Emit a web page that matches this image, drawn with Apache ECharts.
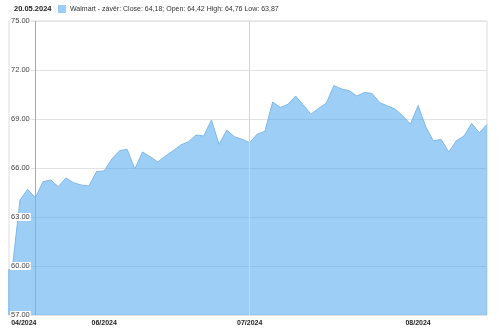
<!DOCTYPE html>
<html><head><meta charset="utf-8">
<script src="https://cdn.jsdelivr.net/npm/echarts@6/dist/echarts.min.js"></script>
<style>html,body{margin:0;padding:0;background:#fff}#c{width:500px;height:330px}</style>
</head><body><div id="c"></div>
<script>
const dates = ['14.05.2024','15.05.2024','16.05.2024','17.05.2024','20.05.2024','21.05.2024','22.05.2024','23.05.2024','24.05.2024','28.05.2024','29.05.2024','30.05.2024','31.05.2024',
'03.06.2024','04.06.2024','05.06.2024','06.06.2024','07.06.2024','10.06.2024','11.06.2024','12.06.2024','13.06.2024','14.06.2024','17.06.2024','18.06.2024','20.06.2024','21.06.2024','24.06.2024','25.06.2024','26.06.2024','27.06.2024','28.06.2024',
'01.07.2024','02.07.2024','03.07.2024','05.07.2024','08.07.2024','09.07.2024','10.07.2024','11.07.2024','12.07.2024','15.07.2024','16.07.2024','17.07.2024','18.07.2024','19.07.2024','22.07.2024','23.07.2024','24.07.2024','25.07.2024','26.07.2024','29.07.2024','30.07.2024','31.07.2024',
'01.08.2024','02.08.2024','05.08.2024','06.08.2024','07.08.2024','08.08.2024','09.08.2024','12.08.2024','13.08.2024','14.08.2024'];
const closes = [59.6,59.9,64.04,64.70,64.18,65.16,65.27,64.86,65.39,65.10,64.96,64.90,65.78,
65.82,66.55,67.06,67.14,65.94,66.98,66.69,66.37,66.73,67.06,67.41,67.61,68.02,67.96,68.94,67.45,68.31,67.92,67.76,
67.55,68.08,68.25,70.04,69.71,69.90,70.41,69.86,69.29,69.65,69.96,71.04,70.84,70.73,70.41,70.63,70.56,70.00,69.80,69.61,69.18,68.69,
69.82,68.53,67.65,67.76,66.98,67.67,67.96,68.73,68.16,68.67];
const seriesName = 'Walmart - závěr';
const selectedIndex = 4;
const selOpen = '64,42', selHigh = '64,76', selLow = '63,87';
const monthLabels = ['04/2024','06/2024','07/2024','08/2024'];
const monthIndex = [2.5, 13, 32, 54];
const yTicks = [57,60,63,66,69,72,75];

const chart = echarts.init(document.getElementById('c'), null, {renderer:'canvas'});
const fmt = v => v.toFixed(2).replace('.', ',');
const yMin = yTicks[0], yMax = yTicks[yTicks.length-1];
chart.setOption({
  animation:false,
  title:{text:dates[selectedIndex], left:14, top:5, padding:0, textStyle:{fontFamily:'Liberation Sans',fontSize:7.5,fontWeight:'bold',color:'#222'}},
  legend:{data:[seriesName], left:58, top:5, padding:0, icon:'rect', itemWidth:8, itemHeight:8, itemGap:4,
    textStyle:{fontFamily:'Liberation Sans',fontSize:7,color:'#333',padding:[0,0,0,-1]},
    formatter: n => n + ': Close: ' + fmt(closes[selectedIndex]) + '; Open: ' + selOpen + ' High: ' + selHigh + ' Low: ' + selLow},
  grid:{left:9, right:13, top:21, bottom:15, show:true, borderColor:'#dcdcdc', borderWidth:1},
  xAxis:{type:'value', min:0.563, max:dates.length-1,
    axisLine:{show:false}, axisTick:{show:false}, splitLine:{show:false},
    axisLabel:{customValues:monthIndex, margin:5, fontFamily:'Liberation Sans', fontSize:7, fontWeight:'bold', color:'#222',
      formatter: v => { const i = monthIndex.indexOf(v); return i>=0 ? monthLabels[i] : ''; }}},
  yAxis:[
    {type:'value', min:yMin, max:yMax, interval:3, z:0,
      axisLine:{show:false}, axisTick:{show:false}, axisLabel:{show:false},
      splitLine:{lineStyle:{color:'#e2e2e2', width:1}}},
    {type:'value', min:yMin, max:yMax, interval:3, z:10, position:'left',
      axisLine:{show:false}, axisTick:{show:false}, splitLine:{show:false},
      axisLabel:{inside:true, showMinLabel:true, showMaxLabel:true, margin:1, fontFamily:'Liberation Sans', fontSize:7.5, color:'#444',
        backgroundColor:'#fff', padding:[0,1], formatter: v => v.toFixed(2)}}
  ],
  series:[{name:seriesName, type:'line', symbol:'none', z:2, yAxisIndex:0,
    data: closes.map((v,i)=>[i,v]),
    lineStyle:{color:'#7fb8ea', width:1},
    itemStyle:{color:'#9ccdf6'},
    areaStyle:{color:'rgb(60,158,238)', opacity:0.5},
    markLine:{silent:true, symbol:['none','none'], label:{show:false},
      data:[{xAxis:selectedIndex, lineStyle:{color:'#a8a8a8', width:1, type:'solid'}},
            {xAxis:32, lineStyle:{color:'#d4d4d4', width:1, type:'solid'}}]}
  }]
});
</script></body></html>
